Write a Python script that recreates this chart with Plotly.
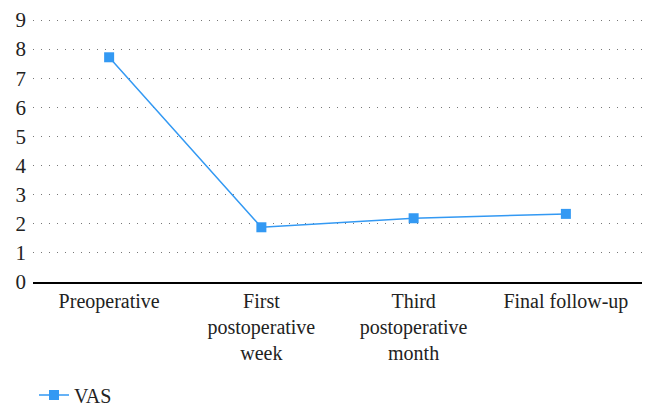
import plotly.graph_objects as go

categories = ["Preoperative", "First postoperative week", "Third postoperative month", "Final follow-up"]
tick_labels = ["Preoperative", "First<br>postoperative<br>week", "Third<br>postoperative<br>month", "Final follow-up"]
vas = [7.72, 1.88, 2.19, 2.34]
y_ticks = [0, 1, 2, 3, 4, 5, 6, 7, 8, 9]

FONT = "Liberation Serif"
BLUE = "#3399f3"

W, H = 649, 409  # page body has an 8px margin

fig = go.Figure()
fig.add_trace(go.Scatter(
    x=categories, y=vas, name="VAS", mode="lines+markers",
    line=dict(color=BLUE, width=1.5),
    marker=dict(symbol="square", size=10, color=BLUE),
))

fig.update_layout(
    width=W, height=H,
    margin=dict(l=25, r=15, t=11, b=135, autoexpand=False),
    paper_bgcolor="white", plot_bgcolor="white",
    font=dict(family=FONT, size=20, color="#222"),
    showlegend=True,
    legend=dict(orientation="h", x=26 / W, xanchor="left", xref="container",
                y=1 - (395 - 8) / H, yanchor="middle", yref="container",
                font=dict(family=FONT, size=20, color="#222")),
    xaxis=dict(type="category", tickvals=categories, ticktext=tick_labels,
               range=[-0.5, 3.5], showgrid=False, showline=True, linecolor="black",
               linewidth=2, ticks="", tickfont=dict(family=FONT, size=20, color="#222"),
               automargin=False),
    yaxis=dict(range=[0, 9.035], tickvals=y_ticks, showgrid=True, gridcolor="#777",
               griddash="1px,7px", gridwidth=1, zeroline=False, showline=False,
               ticks="", tickfont=dict(family=FONT, size=21, color="#222"),
               ticklabelstandoff=6, ticklabeloverflow="allow", automargin=False),
)

fig.write_html("out.html")
